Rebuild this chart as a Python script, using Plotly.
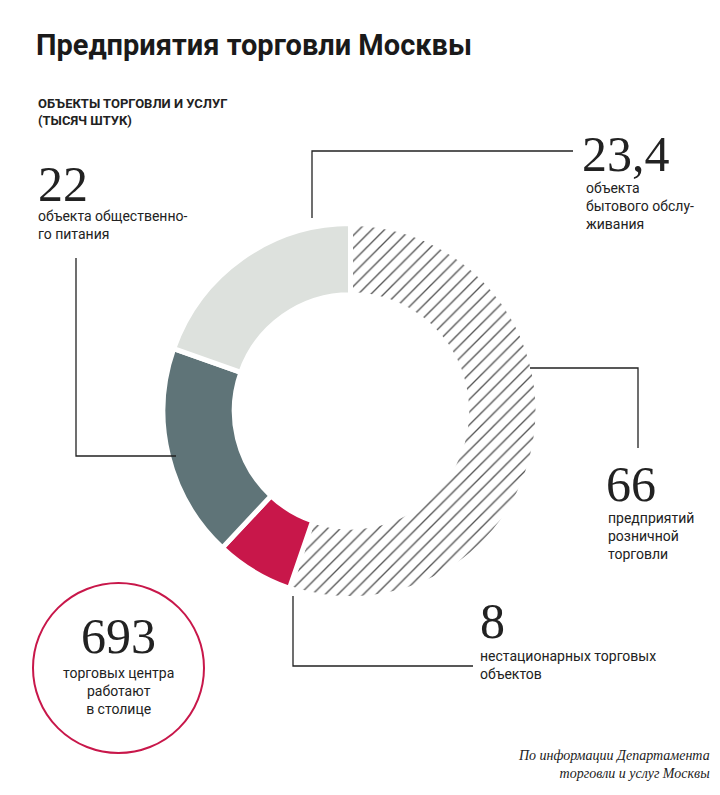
import plotly.graph_objects as go

categories = ["предприятий розничной торговли", "нестационарных торговых объектов",
              "объекта общественного питания", "объекта бытового обслуживания"]
values = [66, 8, 22, 23.4]
value_labels = ["66", "8", "22", "23,4"]
malls = "693"

W, H = 720, 795
def px(x): return x / W
def py(y): return 1 - y / H

fig = go.Figure(go.Pie(
    labels=categories, values=values, sort=False, direction="clockwise", rotation=0,
    hole=0.62, textinfo="none", hoverinfo="label+value", showlegend=False,
    marker=dict(colors=["white", "#c8174a", "#5f7478", "#dde1dd"],
                line=dict(color="white", width=5),
                pattern=dict(shape=["/", "", "", ""], fgcolor="#555555",
                             bgcolor="white", size=9, solidity=0.15)),
    domain=dict(x=[px(155), px(530)], y=[py(602), py(204)]),
))

serif = "Liberation Serif"
sans = "Roboto"
ann = []
def T(x, y, text, size, family=sans, color="#222", anchor="left", va="top", bold=False, italic=False):
    if bold: text = "<b>" + text + "</b>"
    if italic: text = "<i>" + text + "</i>"
    ann.append(dict(x=px(x), y=py(y), xref="paper", yref="paper", text=text, showarrow=False,
                    xanchor=anchor, yanchor=va, align=anchor if anchor != "center" else "center",
                    font=dict(family=family, size=size, color=color)))

T(26, 18, "Предприятия торговли Москвы", 29, bold=True, color="#1a1a1a")
T(28, 86, "ОБЪЕКТЫ ТОРГОВЛИ И УСЛУГ<br>(ТЫСЯЧ ШТУК)", 13, bold=True)
T(28, 146, value_labels[2], 50, family=serif)
T(28, 198, "объекта общественно-<br>го питания", 14)
T(572, 116, value_labels[3], 50, family=serif)
T(576, 170, "объекта<br>бытового обслу-<br>живания", 14)
T(596, 446, value_labels[0], 50, family=serif)
T(598, 500, "предприятий<br>розничной<br>торговли", 14)
T(470, 583, value_labels[1], 50, family=serif)
T(470, 638, "нестационарных торговых<br>объектов", 14)
T(110, 598, malls, 50, family=serif, anchor="center")
T(110, 655, "торговых центра<br>работают<br>в столице", 14, anchor="center")
T(704, 738, "По информации Департамента<br>торговли и услуг Москвы", 14, family=serif, anchor="right", italic=True)

shapes = []
def L(pts):
    d = "M " + " L ".join(f"{px(x)},{py(y)}" for x, y in pts)
    shapes.append(dict(type="path", xref="paper", yref="paper", path=d,
                       line=dict(color="#222", width=1.3)))
L([(68, 250), (68, 448), (168, 448)])
L([(304, 210), (304, 143), (565, 143)])
L([(522, 360), (630, 360), (630, 440)])
L([(285, 588), (285, 658), (465, 658)])
shapes.append(dict(type="circle", xref="paper", yref="paper", x0=px(25), x1=px(196),
                   y0=py(745), y1=py(575), line=dict(color="#c8174a", width=2)))

fig.update_layout(width=W, height=H, margin=dict(l=0, r=0, t=0, b=0),
                  paper_bgcolor="white", annotations=ann, shapes=shapes)
fig.write_html("out.html")
